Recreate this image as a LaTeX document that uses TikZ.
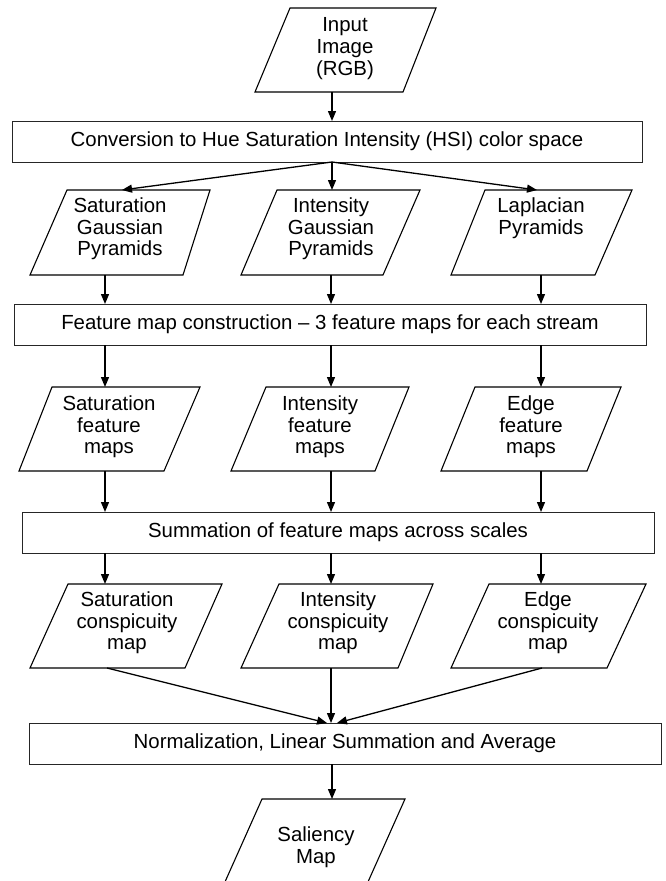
\documentclass[tikz,border=0pt]{standalone}
\usepackage{fontspec}
\setmainfont{Liberation Sans}
\usetikzlibrary{arrows.meta}
\begin{document}
\begin{tikzpicture}[x=1pt,y=-1pt,
  every node/.style={inner sep=0pt,outer sep=0pt},
  txt/.style={font=\fontsize{20.4}{21.6}\selectfont,align=center},
  box/.style={draw=black!85,line width=0.9pt,rectangle,font=\fontsize{20.4}{21.6}\selectfont},
  para/.style={draw,line width=1.1pt,line join=miter},
  arr/.style={line width=1.3pt,-{Triangle[length=10pt,width=8pt]}}
]
\clip (0,0) rectangle (665,881);
\fill[white] (0,0) rectangle (665,881);

% boxes
\node[box,minimum width=630pt,minimum height=41pt] (b1) at (327,141.5) {Conversion to Hue Saturation Intensity (HSI) color space};
\node[box,minimum width=632pt,minimum height=41pt] (b2) at (330,324.5) {Feature map construction -- 3 feature maps for each stream};
\node[box,minimum width=632pt,minimum height=41pt] (b3) at (338,532.5) {Summation of feature maps across scales};
\node[box,minimum width=632pt,minimum height=41pt] (b4) at (345,743.5) {Normalization, Linear Summation and Average};

% input
\draw[para] (290,8) -- (436,8) -- (403,92) -- (255,92) -- cycle;
\node[txt] (t0) at (345,48.5) {Input\\Image\\(RGB)};
\coordinate (p0-b) at (332,92);

% row 2
\draw[para] (67,190) -- (210,190) -- (183,275) -- (30,275) -- cycle;
\draw[para] (277,190) -- (420,190) -- (383,275) -- (241,275) -- cycle;
\draw[para] (485,190) -- (632,190) -- (595,275) -- (451,275) -- cycle;
\node[txt] (t2a) at (120,229) {Saturation\\Gaussian\\Pyramids};
\node[txt] (t2b) at (331,229) {Intensity\\Gaussian\\Pyramids};
\node[txt] (t2c) at (541,218) {Laplacian\\Pyramids};
\coordinate (p2a-t) at (122,190);
\coordinate (p2b-t) at (332,190);
\coordinate (p2c-t) at (537,190);
\coordinate (p2a-b) at (105,275);
\coordinate (p2b-b) at (331,275);
\coordinate (p2c-b) at (541,275);

% row 3
\draw[para] (52,387) -- (200,387) -- (164,471) -- (19,471) -- cycle;
\draw[para] (266,387) -- (409,387) -- (375,471) -- (231,471) -- cycle;
\draw[para] (475,387) -- (621,387) -- (587,471) -- (441,471) -- cycle;
\node[txt] (t3a) at (109,427) {Saturation\\feature\\maps};
\node[txt] (t3b) at (320,427) {Intensity\\feature\\maps};
\node[txt] (t3c) at (531,427) {Edge\\feature\\maps};
\coordinate (p3a-t) at (105,387);
\coordinate (p3b-t) at (331,387);
\coordinate (p3c-t) at (541,387);
\coordinate (p3a-b) at (105,471);
\coordinate (p3b-b) at (331,471);
\coordinate (p3c-b) at (541,471);

% row 4
\draw[para] (68,584) -- (222,584) -- (185,668) -- (30,668) -- cycle;
\draw[para] (279,584) -- (433,584) -- (398,668) -- (241,668) -- cycle;
\draw[para] (489,584) -- (646,584) -- (607,668) -- (451,668) -- cycle;
\node[txt] (t4a) at (127,623) {Saturation\\conspicuity\\map};
\node[txt] (t4b) at (338,623) {Intensity\\conspicuity\\map};
\node[txt] (t4c) at (548,623) {Edge\\conspicuity\\map};
\coordinate (p4a-t) at (105,584);
\coordinate (p4b-t) at (331,584);
\coordinate (p4c-t) at (541,584);
\coordinate (p4a-b) at (107,668);
\coordinate (p4b-b) at (331,668);
\coordinate (p4c-b) at (542,668);

% saliency
\draw[para] (262,799) -- (405,799) -- (367.5,883) -- (224.5,883) -- cycle;
\node[txt] (t5) at (316,847.5) {Saliency\\Map};
\coordinate (p5-t) at (332,799);

% connectors
\draw[arr] (p0-b) -- (p0-b |- b1.north);
\coordinate (hub) at ([xshift=5pt]b1.south);
\draw[arr] (hub) -- (p2a-t);
\draw[arr] (hub) -- (p2b-t);
\draw[arr] (hub) -- (p2c-t);

\draw[arr] (p2a-b) -- (p2a-b |- b2.north);
\draw[arr] (p2b-b) -- (p2b-b |- b2.north);
\draw[arr] (p2c-b) -- (p2c-b |- b2.north);

\draw[arr] (p3a-t |- b2.south) -- (p3a-t);
\draw[arr] (p3b-t |- b2.south) -- (p3b-t);
\draw[arr] (p3c-t |- b2.south) -- (p3c-t);

\draw[arr] (p3a-b) -- (p3a-b |- b3.north);
\draw[arr] (p3b-b) -- (p3b-b |- b3.north);
\draw[arr] (p3c-b) -- (p3c-b |- b3.north);

\draw[arr] (p4a-t |- b3.south) -- (p4a-t);
\draw[arr] (p4b-t |- b3.south) -- (p4b-t);
\draw[arr] (p4c-t |- b3.south) -- (p4c-t);

\draw[arr] (p4a-b) -- ([xshift=-18pt]b4.north);
\draw[arr] (p4b-b) -- (p4b-b |- b4.north);
\draw[arr] (p4c-b) -- ([xshift=-8pt]b4.north);

\draw[arr] (p5-t |- b4.south) -- (p5-t);
\end{tikzpicture}
\end{document}
